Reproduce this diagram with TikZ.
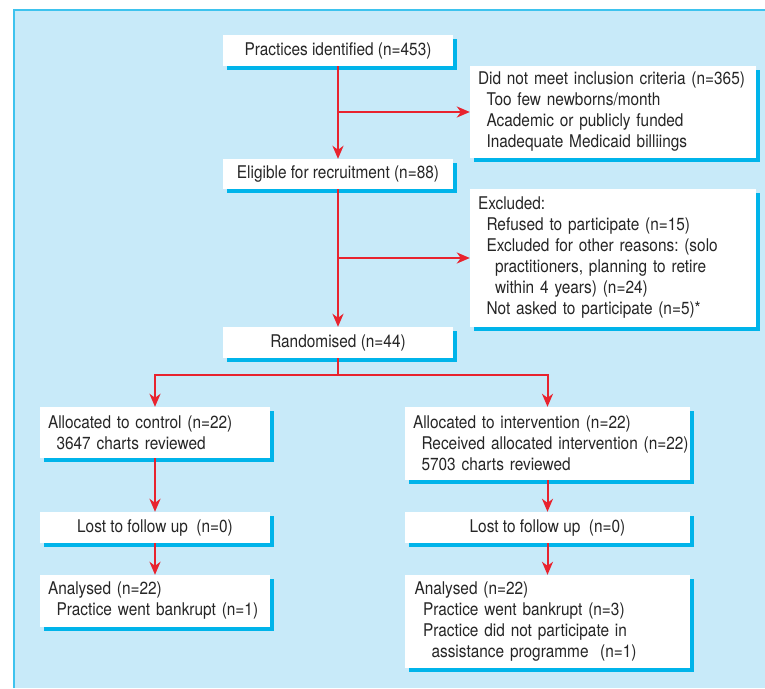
\documentclass[tikz,border=0pt]{standalone}
\usepackage{fontspec}
\setmainfont{TeX Gyre Heros}[FakeStretch=0.88]
\usepackage{xcolor}
\usetikzlibrary{arrows.meta,shadows}

\definecolor{panelblue}{HTML}{C8EAF9}
\definecolor{panelline}{HTML}{3EC3EE}
\definecolor{shadowblue}{HTML}{00B4EA}
\definecolor{flowred}{HTML}{E8232E}
\definecolor{textgray}{HTML}{262626}
\newcommand{\subind}{\hspace*{8.5pt}}
\frenchspacing

\begin{document}
\begin{tikzpicture}[
    x=1pt, y=-1pt,
    box/.style={
        rectangle,
        fill=white,
        inner xsep=8pt,
        inner ysep=0pt,
        text=textgray,
        font=\fontsize{17.5}{21}\selectfont,
        drop shadow={shadow xshift=3.5pt, shadow yshift=-3.5pt, fill=shadowblue, opacity=1}
    },
    single/.style={box, minimum width=230pt, align=center},
    narrow/.style={box, text width=214pt, align=left},
    wide/.style={box, text width=270pt, align=left},
    line/.style={draw=flowred, line width=2pt},
    arrow/.style={line, -{Stealth[length=13pt, width=11pt, inset=4pt]}}
]
\useasboundingbox (0,0) rectangle (765,688);

% Panel
\fill[panelblue] (13,9) rectangle (765,688);
\draw[panelline, line width=2pt] (14,688) -- (14,10) -- (765,10);

% Main column
\node[single, minimum height=31pt] (practices) at (338,50.5) {Practices identified (n=453)};
\node[single, minimum height=30pt] (eligible) at (338,174) {Eligible for recruitment (n=88)};
\node[single, minimum height=31pt] (random) at (338,342.5) {Randomised (n=44)};

% Exclusions
\node[wide, minimum height=92pt] (notmet) at (613,112) {Did not meet inclusion criteria (n=365)\\
    \subind Too few newborns/month\\
    \subind Academic or publicly funded\\
    \subind Inadequate Medicaid billiings};
\node[wide, minimum height=138pt] (excluded) at (613,258) {Excluded:\\
    \subind Refused to participate (n=15)\\
    \subind Excluded for other reasons: (solo\\
    \subind\subind practitioners, planning to retire\\
    \subind\subind within 4 years) (n=24)\\
    \subind Not asked to participate (n=5)*};

% Control arm
\node[narrow, minimum height=51pt] (allocctrl) at (155,432.5) {Allocated to control (n=22)\\
    \subind 3647 charts reviewed};
\node[single, minimum height=31pt] (lostctrl) at (155,527.5) {Lost to follow up\ \ (n=0)};
\node[narrow, minimum height=52pt] (analctrl) at (155,601) {Analysed (n=22)\\
    \subind Practice went bankrupt (n=1)};

% Intervention arm
\node[wide, text width=269pt, minimum height=73pt] (allocint) at (547.5,443.5) {Allocated to intervention (n=22)\\
    \subind\mbox{Received allocated intervention (n=22)}\\
    \subind 5703 charts reviewed};
\node[single, minimum width=285pt, minimum height=31pt] (lostint) at (547.5,527.5) {Lost to follow up\ \ (n=0)};
\node[wide, text width=266pt, inner xsep=9.5pt, minimum height=93pt] (analint) at (547.5,621.5) {Analysed (n=22)\\
    \subind Practice went bankrupt (n=3)\\
    \subind Practice did not participate in\\
    \subind\subind assistance programme\ \ (n=1)};

% Flow
\draw[arrow] (practices) -- (eligible);
\draw[arrow] (practices.south |- notmet.west) -- (notmet.west);
\draw[arrow] (eligible) -- (random);
\draw[arrow] (eligible.south |- excluded.west) -- (excluded.west);
\draw[line] (random.south) -- ++(0,17) coordinate (split);
\draw[arrow] (split) -| (allocctrl.north);
\draw[arrow] (split) -| (allocint.north);
\draw[arrow] (allocctrl) -- (lostctrl);
\draw[arrow] (lostctrl) -- (analctrl);
\draw[arrow] (allocint) -- (lostint);
\draw[arrow] (lostint) -- (analint);

\end{tikzpicture}
\end{document}
